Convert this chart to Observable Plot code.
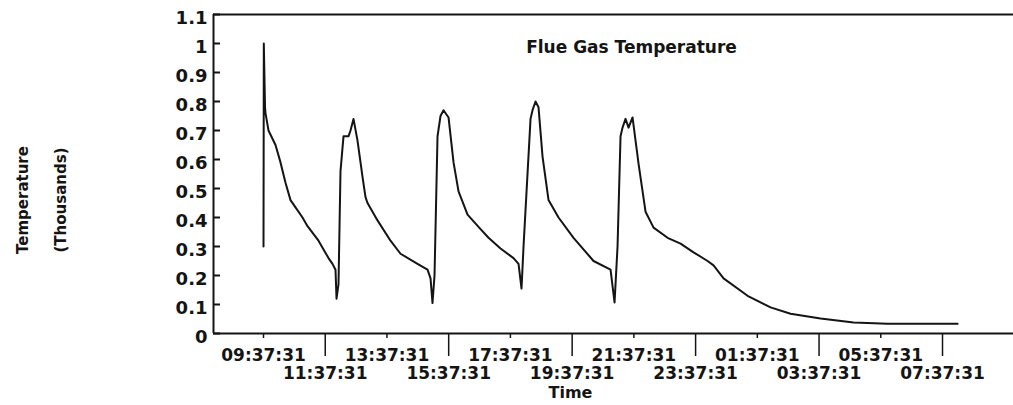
<!DOCTYPE html>
<html><head><meta charset="utf-8">
<script src="https://cdn.jsdelivr.net/npm/d3@7"></script>
<script src="https://cdn.jsdelivr.net/npm/@observablehq/plot@0.6"></script>
<style>body{margin:0;background:#fff}</style>
</head><body><div id="chart"></div>
<script>
// hours elapsed since 09:37:31
const hours = [0.000,0.010,0.050,0.065,0.162,0.389,0.551,0.713,0.875,1.037,1.264,1.426,1.782,2.106,2.236,2.333,2.366,2.430,2.495,2.592,2.754,2.819,2.916,3.046,3.208,3.305,3.370,3.694,4.115,4.439,4.990,5.314,5.412,5.476,5.541,5.638,5.735,5.833,5.995,6.157,6.319,6.611,7.032,7.291,7.680,8.101,8.263,8.360,8.425,8.652,8.716,8.814,8.911,9.041,9.235,9.559,10.045,10.693,11.244,11.374,11.471,11.568,11.633,11.730,11.828,11.957,12.152,12.378,12.638,13.092,13.513,13.934,14.388,14.582,14.906,15.684,16.429,17.077,18.049,19.118,20.220,22.489];
// temperature, thousands
const temps = [0.30,1.00,0.78,0.76,0.70,0.65,0.59,0.52,0.46,0.435,0.40,0.37,0.32,0.26,0.24,0.22,0.12,0.17,0.56,0.68,0.68,0.70,0.74,0.665,0.54,0.47,0.45,0.39,0.32,0.275,0.24,0.22,0.19,0.105,0.20,0.68,0.75,0.77,0.745,0.59,0.49,0.41,0.36,0.33,0.293,0.26,0.24,0.155,0.30,0.74,0.77,0.80,0.78,0.61,0.46,0.40,0.33,0.25,0.22,0.107,0.30,0.68,0.71,0.74,0.71,0.745,0.585,0.42,0.365,0.33,0.31,0.28,0.25,0.235,0.19,0.13,0.09,0.068,0.052,0.038,0.034,0.034];

const yTicks = [0,0.1,0.2,0.3,0.4,0.5,0.6,0.7,0.8,0.9,1,1.1];
const yTickLabels = ["0","0.1","0.2","0.3","0.4","0.5","0.6","0.7","0.8","0.9","1","1.1"];
const xTickHours = [0,2,4,6,8,10,12,14,16,18,20,22];
const xTickLabels = ["09:37:31","11:37:31","13:37:31","15:37:31","17:37:31","19:37:31","21:37:31","23:37:31","01:37:31","03:37:31","05:37:31","07:37:31"];
const xDomain = [-1.62, 24.3];
const yDomain = [0, 1.1];

const data = hours.map((h, i) => ({h, t: temps[i]}));
const evenH = xTickHours.filter((d, i) => i % 2 === 0);
const oddH = xTickHours.filter((d, i) => i % 2 === 1);
const xLab = d => xTickLabels[xTickHours.indexOf(d)];
const yLab = d => yTickLabels[yTicks.indexOf(d)];
const ink = "#141414";
const W = 1013, ML = 213, MR = 0;

const chart = Plot.plot({
  width: W, height: 405,
  marginLeft: ML, marginRight: MR, marginTop: 14, marginBottom: 72,
  style: {fontFamily: "'DejaVu Sans', sans-serif", fontWeight: "bold", color: ink, background: "#fff"},
  x: {domain: xDomain, axis: null, label: null},
  y: {domain: yDomain, axis: null, label: null},
  marks: [
    Plot.ruleY([yDomain[0], yDomain[1]], {stroke: ink, strokeWidth: 2}),
    Plot.ruleX([xDomain[0]], {stroke: ink, strokeWidth: 2}),
    Plot.axisY(yTicks, {label: null, tickSize: 0, tickPadding: 6, tickFormat: yLab, fontSize: 18, dy: 4, fill: ink}),
    Plot.tickY(yTicks, {y: d => d, stroke: ink, strokeWidth: 2, insetRight: (W - ML - MR) - 7}),
    Plot.axisX(evenH, {label: null, tickSize: 5, tickPadding: 10, tickFormat: xLab, fontSize: 17, stroke: ink, strokeWidth: 1.5, fill: ink}),
    Plot.axisX(oddH, {label: null, tickSize: 23, tickPadding: 10, tickFormat: xLab, fontSize: 17, stroke: ink, strokeWidth: 1.5, fill: ink}),
    Plot.line(data, {x: "h", y: "t", stroke: ink, strokeWidth: 2}),
    Plot.text(["Flue Gas Temperature"], {frameAnchor: "top", dx: 18, dy: 33, lineAnchor: "middle", fontSize: 17, fill: ink}),
    Plot.text(["Time"], {frameAnchor: "bottom", dx: -43, dy: 59, lineAnchor: "middle", fontSize: 16, fill: ink}),
    Plot.text(["Temperature"], {frameAnchor: "left", textAnchor: "middle", dx: -190, dy: 26, rotate: -90, lineAnchor: "middle", fontSize: 15, fill: ink}),
    Plot.text(["(Thousands)"], {frameAnchor: "left", textAnchor: "middle", dx: -152, dy: 26, rotate: -90, lineAnchor: "middle", fontSize: 15, fill: ink})
  ]
});
document.getElementById("chart").appendChild(chart);
</script>
</body></html>
